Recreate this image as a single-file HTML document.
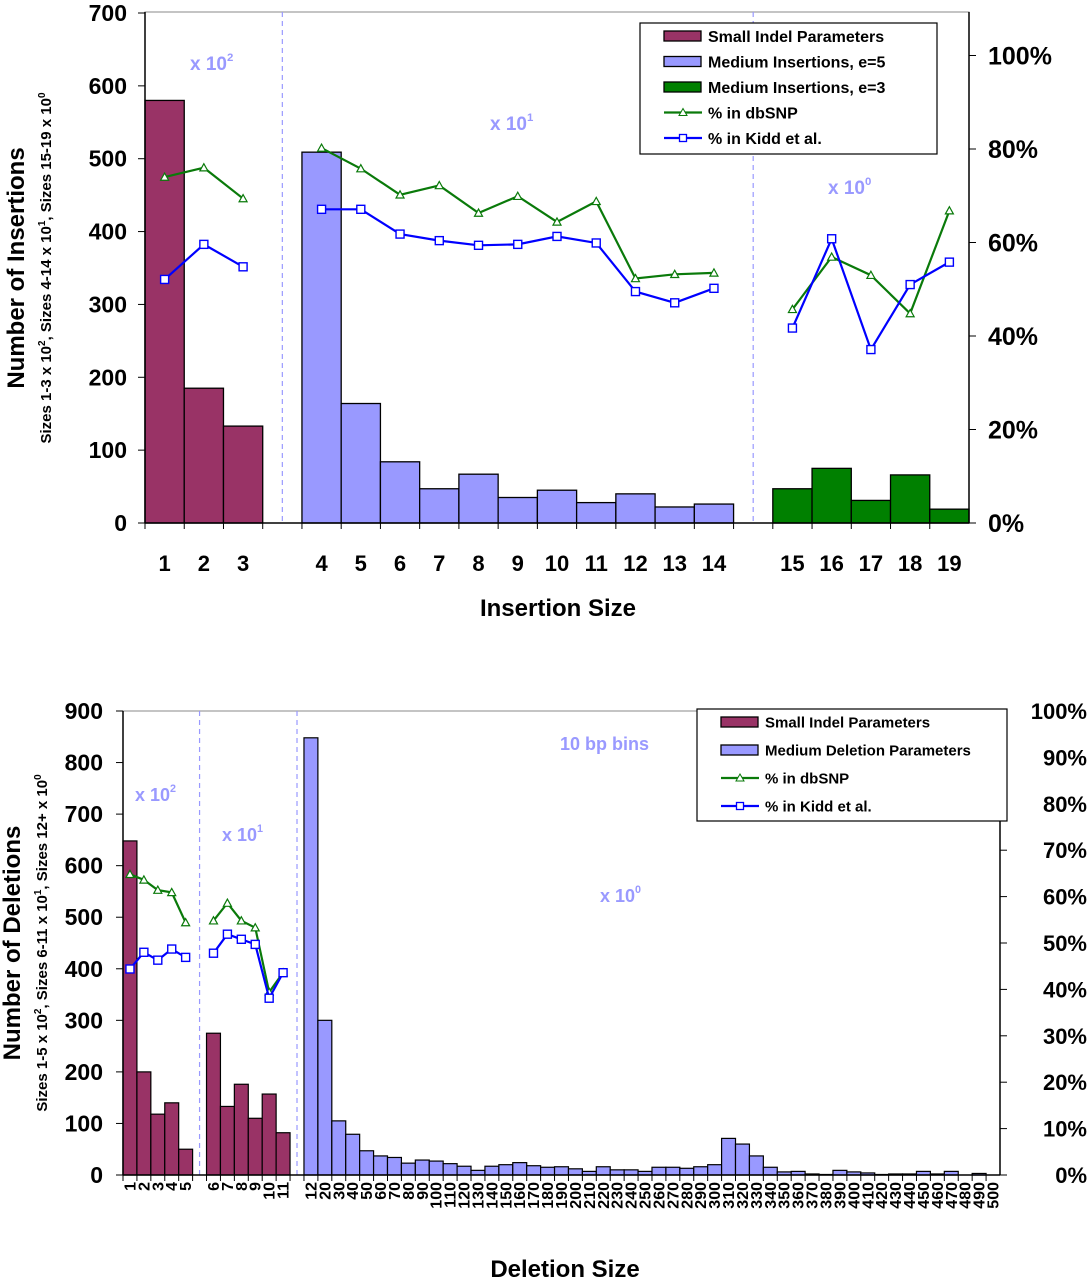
<!DOCTYPE html>
<html><head><meta charset="utf-8"><style>
body{margin:0;background:#fff}
svg{display:block;font-family:"Liberation Sans",Arial,sans-serif}
</style></head><body>
<svg id="c" width="1090" height="1280" viewBox="0 0 1090 1280" xmlns="http://www.w3.org/2000/svg"></svg>
<script>
// ---------- Top chart data (insertions) ----------
const insCats = ['1','2','3','','4','5','6','7','8','9','10','11','12','13','14','','15','16','17','18','19'];
const insSmall = [580,185,133];
const insMed5 = [509,164,84,47,67,35,45,28,40,22,26];
const insMed3 = [47,75,31,66,19];
const insDbsnpA = [74,76,69.4];
const insDbsnpB = [80.2,75.8,70.2,72.2,66.3,69.9,64.4,68.8,52.3,53.2,53.5];
const insDbsnpC = [45.7,56.9,53,44.8,66.8];
const insKiddA = [52.1,59.6,54.8];
const insKiddB = [67.1,67.1,61.8,60.4,59.4,59.6,61.3,59.9,49.5,47.1,50.2];
const insKiddC = [41.7,60.8,37.1,51,55.8];
const insLeftTicks = [0,100,200,300,400,500,600,700];
const insRightTicks = [0,20,40,60,80,100];
// ---------- Bottom chart data (deletions) ----------
const delCats = ['1','2','3','4','5','','6','7','8','9','10','11','','12','20','30','40','50','60','70','80','90','100','110','120','130','140','150','160','170','180','190','200','210','220','230','240','250','260','270','280','290','300','310','320','330','340','350','360','370','380','390','400','410','420','430','440','450','460','470','480','490','500'];
const delSmallA = [648,200,118,140,50];
const delSmallB = [275,133,176,110,157,82];
const delMed = [848,300,105,79,47,37,34,23,29,27,22,17,9,17,20,24,18,15,16,12,7,16,10,10,7,15,15,13,16,20,71,60,37,15,6,7,2,1,9,6,4,1,2,2,7,2,7,0,3,0];
const delDbsnpA = [64.8,63.6,61.4,60.9,54.4];
const delDbsnpB = [54.8,58.6,54.8,53.3,39.4,43.6];
const delKiddA = [44.4,48,46.3,48.7,46.9];
const delKiddB = [47.8,51.9,50.8,49.7,38.1,43.6];
const delLeftTicks = [0,100,200,300,400,500,600,700,800,900];
const delRightTicks = [0,10,20,30,40,50,60,70,80,90,100];

const NS='http://www.w3.org/2000/svg';
const svg=document.getElementById('c');
function mk(tag,attrs,parent){const e=document.createElementNS(NS,tag);for(const k in attrs)e.setAttribute(k,attrs[k]);(parent||svg).appendChild(e);return e;}
function txt(s,attrs,parent){const e=mk('text',attrs,parent);e.textContent=s;return e;}
const MAROON='#993366',LAV='#9999ff',GREEN='#008000',LGREEN='#0a7a0a',BLUE='#0000ff';

// ===== TOP =====
const T={x0:145,x1:969,y0:523,ytop:12};
const tSlot=(T.x1-T.x0)/insCats.length;
const tx=i=>T.x0+i*tSlot;
const tyL=v=>T.y0-v*(T.y0-13)/700;
const tyR=p=>T.y0-p*4.675;
const gTop=mk('g',{});


mk('rect',{x:T.x0,y:T.ytop,width:T.x1-T.x0,height:T.y0-T.ytop,fill:'none',stroke:'#888','stroke-width':1},gTop);
[3.5,15.5].forEach(s=>{const l=mk('line',{x1:tx(s),x2:tx(s),y1:T.ytop,y2:T.y0,stroke:LAV,'stroke-dasharray':'5,4','stroke-width':1.2},gTop);});
function tBars(vals,start,color,name){vals.forEach((v,i)=>{const r=mk('rect',{x:tx(start+i),y:tyL(v),width:tSlot,height:T.y0-tyL(v),fill:color,stroke:'#000','stroke-width':1.3},gTop);});}
tBars(insSmall,0,MAROON,'bar-small');
tBars(insMed5,4,LAV,'bar-medium-e5');
tBars(insMed3,16,GREEN,'bar-medium-e3');
function series(vals,start,xf,yf,color,marker,name,parent,sz){
  const pts=vals.map((v,i)=>[xf(start+i),yf(v)]);
  const p=mk('polyline',{points:pts.map(p=>p.join(',')).join(' '),fill:'none',stroke:color,'stroke-width':2.2},parent);
  
  pts.forEach(([x,y])=>{let m;
    if(marker==='tri')m=mk('polygon',{points:`${x},${y-sz} ${x-sz},${y+sz*0.8} ${x+sz},${y+sz*0.8}`,fill:'#fff',stroke:color,'stroke-width':1.2},parent);
    else m=mk('rect',{x:x-sz,y:y-sz,width:2*sz,height:2*sz,fill:'#fff',stroke:color,'stroke-width':1.4},parent);
    });
}
const tc=i=>tx(i)+tSlot/2;
series(insDbsnpA,0,tc,tyR,LGREEN,'tri','dbsnp',gTop,4);
series(insDbsnpB,4,tc,tyR,LGREEN,'tri','dbsnp',gTop,4);
series(insDbsnpC,16,tc,tyR,LGREEN,'tri','dbsnp',gTop,4);
series(insKiddA,0,tc,tyR,BLUE,'sq','kidd',gTop,4);
series(insKiddB,4,tc,tyR,BLUE,'sq','kidd',gTop,4);
series(insKiddC,16,tc,tyR,BLUE,'sq','kidd',gTop,4);
mk('line',{x1:T.x0,x2:T.x1,y1:T.y0,y2:T.y0,stroke:'#000','stroke-width':1.5},gTop);
mk('line',{x1:T.x0,x2:T.x0,y1:T.ytop,y2:T.y0,stroke:'#000','stroke-width':1.5},gTop);
mk('line',{x1:T.x1,x2:T.x1,y1:T.ytop,y2:T.y0,stroke:'#000','stroke-width':1.5},gTop);
insLeftTicks.forEach(v=>{mk('line',{x1:T.x0-7,x2:T.x0,y1:tyL(v),y2:tyL(v),stroke:'#000'},gTop);const t=txt(String(v),{x:T.x0-18,y:tyL(v)+8,'text-anchor':'end','font-size':23,'font-weight':'bold'},gTop);});
insRightTicks.forEach(v=>{mk('line',{x1:T.x1,x2:T.x1+7,y1:tyR(v),y2:tyR(v),stroke:'#000'},gTop);const t=txt(v+'%',{x:988,y:tyR(v)+9,'font-size':25,'font-weight':'bold'},gTop);});
insCats.forEach((c,i)=>{mk('line',{x1:tx(i),x2:tx(i),y1:T.y0,y2:T.y0+6,stroke:'#000'},gTop);if(c){const t=txt(c,{x:tc(i),y:571,'text-anchor':'middle','font-size':22,'font-weight':'bold'},gTop);}});
let t=txt('Insertion Size',{x:558,y:616,'text-anchor':'middle','font-size':24,'font-weight':'bold'},gTop);
t=txt('Number of Insertions',{transform:'translate(24,268) rotate(-90)','text-anchor':'middle','font-size':24,'font-weight':'bold'},gTop);
t=mk('text',{transform:'translate(51,268) rotate(-90)','text-anchor':'middle','font-size':15,'font-weight':'bold'},gTop);t.innerHTML='Sizes 1-3 x 10<tspan dy="-6" font-size="10">2</tspan><tspan dy="6">, Sizes 4-14 x 10</tspan><tspan dy="-6" font-size="10">1</tspan><tspan dy="6">, Sizes 15-19 x 10</tspan><tspan dy="-6" font-size="10">0</tspan>';
function ann(x,y,exp,fs,parent,name){const e=mk('text',{x:x,y:y,'font-size':fs,'font-weight':'bold',fill:LAV},parent);e.innerHTML='x 10<tspan dy="-9" font-size="'+(fs*0.6)+'">'+exp+'</tspan>';}
ann(190,70,2,19,gTop,'scale-annotation-x100');
ann(490,130,1,19,gTop,'scale-annotation-x10');
ann(828,194,0,19,gTop,'scale-annotation-x1');
function legend(x,y,w,h,items,parent,fs,rowH){
  const g=mk('g',{},parent);
  mk('rect',{x:x,y:y,width:w,height:h,fill:'#fff',stroke:'#000','stroke-width':1.2},g);
  items.forEach((it,i)=>{const cy=y+13+i*rowH;const e=mk('g',{},g);
    if(it.type==='bar')mk('rect',{x:x+24,y:cy-5,width:37,height:10,fill:it.color,stroke:'#000','stroke-width':1.3},e);
    else{mk('line',{x1:x+24,x2:x+62,y1:cy,y2:cy,stroke:it.color,'stroke-width':2.2},e);
      if(it.type==='tri')mk('polygon',{points:`${x+43},${cy-4} ${x+39},${cy+3} ${x+47},${cy+3}`,fill:'#fff',stroke:it.color},e);
      else mk('rect',{x:x+39.5,y:cy-3.5,width:7,height:7,fill:'#fff',stroke:it.color,'stroke-width':1.3},e);}
    txt(it.label,{x:x+68,y:cy+fs*0.36,'font-size':fs,'font-weight':'bold'},e);});
}
legend(640,23,297,131,[{type:'bar',color:MAROON,label:'Small Indel Parameters'},{type:'bar',color:LAV,label:'Medium Insertions, e=5'},{type:'bar',color:GREEN,label:'Medium Insertions, e=3'},{type:'tri',color:LGREEN,label:'% in dbSNP'},{type:'sq',color:BLUE,label:'% in Kidd et al.'}],gTop,16,25.5);

// ===== BOTTOM =====
const B={x0:123,x1:1000,y0:1175,ytop:711};
const bSlot=(B.x1-B.x0)/delCats.length;
const bx=i=>B.x0+i*bSlot;
const bc=i=>bx(i)+bSlot/2;
const byL=v=>B.y0-v*(B.y0-B.ytop)/900;
const byR=p=>B.y0-p*(B.y0-B.ytop)/100;
const gB=mk('g',{});


mk('rect',{x:B.x0,y:B.ytop,width:B.x1-B.x0,height:B.y0-B.ytop,fill:'none',stroke:'#888','stroke-width':1},gB);
[5.5,12.5].forEach(s=>{const l=mk('line',{x1:bx(s),x2:bx(s),y1:B.ytop,y2:B.y0,stroke:LAV,'stroke-dasharray':'5,4','stroke-width':1.2},gB);});
function bBars(vals,start,color,name){vals.forEach((v,i)=>{const r=mk('rect',{x:bx(start+i),y:byL(v),width:bSlot,height:B.y0-byL(v),fill:color,stroke:'#000','stroke-width':1.2},gB);});}
bBars(delSmallA,0,MAROON,'bar-small');
bBars(delSmallB,6,MAROON,'bar-small');
bBars(delMed,13,LAV,'bar-medium');
series(delDbsnpA,0,bc,byR,LGREEN,'tri','dbsnp',gB,4);
series(delDbsnpB,6,bc,byR,LGREEN,'tri','dbsnp',gB,4);
series(delKiddA,0,bc,byR,BLUE,'sq','kidd',gB,4);
series(delKiddB,6,bc,byR,BLUE,'sq','kidd',gB,4);
mk('line',{x1:B.x0,x2:B.x1,y1:B.y0,y2:B.y0,stroke:'#000','stroke-width':1.5},gB);
mk('line',{x1:B.x0,x2:B.x0,y1:B.ytop,y2:B.y0,stroke:'#000','stroke-width':1.5},gB);
mk('line',{x1:B.x1,x2:B.x1,y1:B.ytop,y2:B.y0,stroke:'#000','stroke-width':1.5},gB);
delLeftTicks.forEach(v=>{mk('line',{x1:B.x0-7,x2:B.x0,y1:byL(v),y2:byL(v),stroke:'#000'},gB);const t=txt(String(v),{x:B.x0-20,y:byL(v)+8,'text-anchor':'end','font-size':23,'font-weight':'bold'},gB);});
delRightTicks.forEach(v=>{mk('line',{x1:B.x1,x2:B.x1+7,y1:byR(v),y2:byR(v),stroke:'#000'},gB);const t=txt(v+'%',{x:1087,y:byR(v)+8,'text-anchor':'end','font-size':22,'font-weight':'bold'},gB);});
delCats.forEach((c,i)=>{mk('line',{x1:bx(i),x2:bx(i),y1:B.y0,y2:B.y0+6,stroke:'#000'},gB);if(c){const t=txt(c,{transform:`translate(${bc(i)+5.5},${B.y0+7}) rotate(-90)`,'text-anchor':'end','font-size':16,'font-weight':'bold'},gB);}});
t=txt('Deletion Size',{x:565,y:1277,'text-anchor':'middle','font-size':24,'font-weight':'bold'},gB);
t=txt('Number of Deletions',{transform:'translate(20,943) rotate(-90)','text-anchor':'middle','font-size':24,'font-weight':'bold'},gB);
t=mk('text',{transform:'translate(47,943) rotate(-90)','text-anchor':'middle','font-size':15,'font-weight':'bold'},gB);t.innerHTML='Sizes 1-5 x 10<tspan dy="-6" font-size="10">2</tspan><tspan dy="6">, Sizes 6-11 x 10</tspan><tspan dy="-6" font-size="10">1</tspan><tspan dy="6">, Sizes 12+ x 10</tspan><tspan dy="-6" font-size="10">0</tspan>';
ann(135,801,2,18,gB,'scale-annotation-x100');
ann(222,841,1,18,gB,'scale-annotation-x10');
ann(600,902,0,18,gB,'scale-annotation-x1');
t=txt('10 bp bins',{x:560,y:750,'font-size':18,'font-weight':'bold',fill:LAV},gB);
legend(697,709,310,112,[{type:'bar',color:MAROON,label:'Small Indel Parameters'},{type:'bar',color:LAV,label:'Medium Deletion Parameters'},{type:'tri',color:LGREEN,label:'% in dbSNP'},{type:'sq',color:BLUE,label:'% in Kidd et al.'}],gB,15,28);
</script>
</body></html>
